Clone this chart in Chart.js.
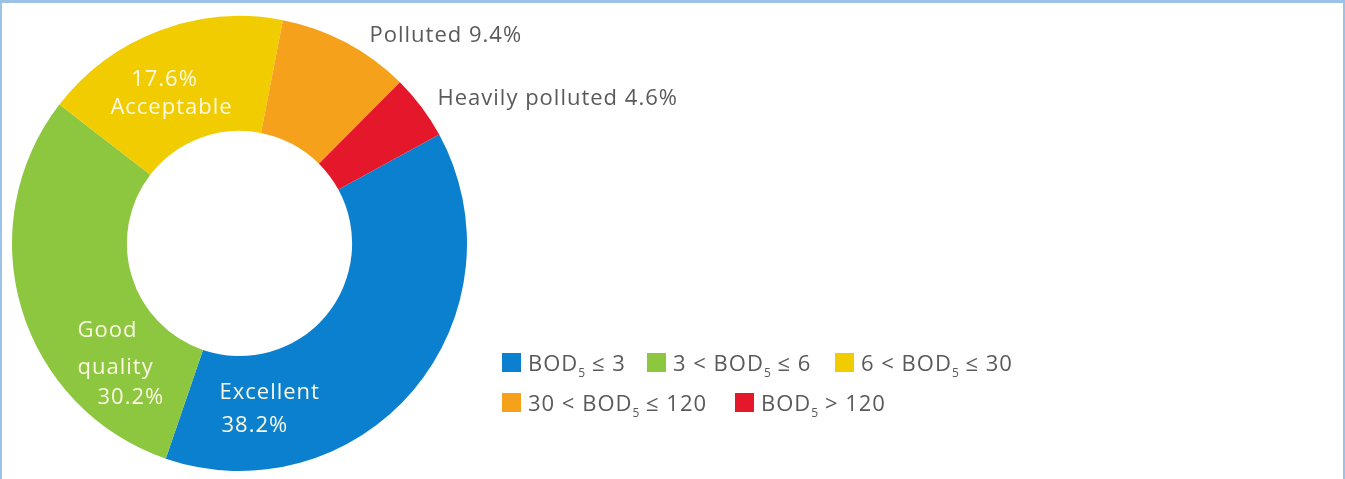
<!DOCTYPE html>
<html>
<head>
<meta charset="utf-8">
<title>BOD5 water quality classes</title>
<script src="https://cdn.jsdelivr.net/npm/chart.js@4/dist/chart.umd.min.js"></script>
<style>
  html, body { margin: 0; padding: 0; background: #fff; }
  .page { position: relative; width: 1345px; height: 479px; overflow: hidden; }
  #bod-chart { position: absolute; left: 0; top: 0; }
  .frame {
    position: absolute; left: 0; top: 0; width: 1345px; height: 479px; box-sizing: border-box;
    border-top: 3px solid #9cc2e8; border-left: 2px solid #9cc2e8; border-right: 2px solid #9cc2e8;
    pointer-events: none;
  }
  .legend {
    position: absolute; left: 502px; top: 342px; width: 513px; overflow: hidden;
    font-family: 'Open Sans', sans-serif; font-size: 22px; letter-spacing: 1px; color: #5a5a5a;
  }
  .legend-row { display: flex; align-items: center; height: 40px; white-space: nowrap; }
  .legend-item { display: flex; align-items: center; flex: none; }
  .legend-swatch { width: 19px; height: 19px; margin-right: 7px; flex: none; }
  .legend sub { font-size: 12px; vertical-align: -0.5em; line-height: 0; letter-spacing: 0; }
  .row-0 .legend-item:nth-child(1) { width: 145px; }
  .row-0 .legend-item:nth-child(2) { width: 188px; }
  .row-1 .legend-item:nth-child(1) { width: 233px; }
</style>
</head>
<body>
<div class="page">
  <canvas id="bod-chart" width="1345" height="479"></canvas>
  <div class="legend" id="bod-legend"></div>
  <div class="frame"></div>
</div>
<script>
// ── Data ──────────────────────────────────────────────────────
const categories   = ['Excellent', 'Good quality', 'Acceptable', 'Polluted', 'Heavily polluted'];
const shares       = [38.2, 30.2, 17.6, 9.4, 4.6];
const legendLabels = ['BOD₅ ≤ 3', '3 < BOD₅ ≤ 6', '6 < BOD₅ ≤ 30', '30 < BOD₅ ≤ 120', 'BOD₅ > 120'];
const legendRows   = [[0, 1, 2], [3, 4]];

// ── Styles ────────────────────────────────────────────────────
const palette    = ['#0b80cf', '#8dc63f', '#f1cc00', '#f6a11c', '#e5172b'];
const INSIDE_INK = '#fbf8e4';
const OUTER_INK  = '#5a5a5a';
const LABEL_FONT = "22px 'Open Sans', sans-serif";

const pct = i => shares[i].toFixed(1) + '%';

// label lines for each slice, placed as offsets from the ring centre
const sliceText = [
  { lines: [categories[0], pct(0)], at: [[-20, 149], [-18, 182]], align: 'left', ink: INSIDE_INK },
  { lines: [...categories[1].split(' '), pct(1)], at: [[-162, 87], [-162, 124], [-142, 154]], align: 'left', ink: INSIDE_INK },
  { lines: [pct(2), categories[2]], at: [[-75, -164], [-68, -136]], align: 'center', ink: INSIDE_INK },
  { lines: [categories[3] + ' ' + pct(3)], at: [[130, -208]], align: 'left', ink: OUTER_INK },
  { lines: [categories[4] + ' ' + pct(4)], at: [[198, -145]], align: 'left', ink: OUTER_INK },
];

// ── Slice labels plugin ───────────────────────────────────────
const sliceLabels = {
  id: 'sliceLabels',
  afterDatasetsDraw(chart) {
    const arc = chart.getDatasetMeta(0).data[0];
    if (!arc) return;
    const { x: cx, y: cy } = arc.getProps(['x', 'y'], true);
    const ctx = chart.ctx;
    ctx.save();
    ctx.font = LABEL_FONT;
    ctx.letterSpacing = '1px';
    ctx.textBaseline = 'middle';
    sliceText.forEach(t => {
      ctx.fillStyle = t.ink;
      ctx.textAlign = t.align;
      t.lines.forEach((line, k) => {
        ctx.fillText(line, cx + t.at[k][0], cy + t.at[k][1]);
      });
    });
    ctx.restore();
  }
};

// ── Doughnut ──────────────────────────────────────────────────
function initBodChart() {
  const canvas = document.getElementById('bod-chart');
  if (!canvas || typeof Chart === 'undefined') return;

  new Chart(canvas, {
    type: 'doughnut',
    data: {
      labels: categories,
      datasets: [{
        data: shares,
        backgroundColor: palette,
        borderWidth: 0,
        offset: 0,
        hoverOffset: 0,
      }]
    },
    options: {
      responsive: false,
      animation: false,
      rotation: 61.4,
      cutout: '49.5%',
      layout: { padding: { left: 12, top: 16, right: 878, bottom: 8 } },
      plugins: {
        legend: { display: false },
        tooltip: { enabled: false }
      }
    },
    plugins: [sliceLabels]
  });
}

// ── Legend (HTML, so BOD5 gets a real subscript) ──────────────
function buildLegend() {
  const box = document.getElementById('bod-legend');
  if (!box) return;
  box.innerHTML = legendRows.map((row, r) =>
    `<div class="legend-row row-${r}">` +
    row.map(i =>
      `<span class="legend-item"><span class="legend-swatch" style="background:${palette[i]}"></span>` +
      `<span>${legendLabels[i].replace('₅', '<sub>5</sub>')}</span></span>`
    ).join('') +
    `</div>`
  ).join('');
}

buildLegend();
initBodChart();
</script>
</body>
</html>
